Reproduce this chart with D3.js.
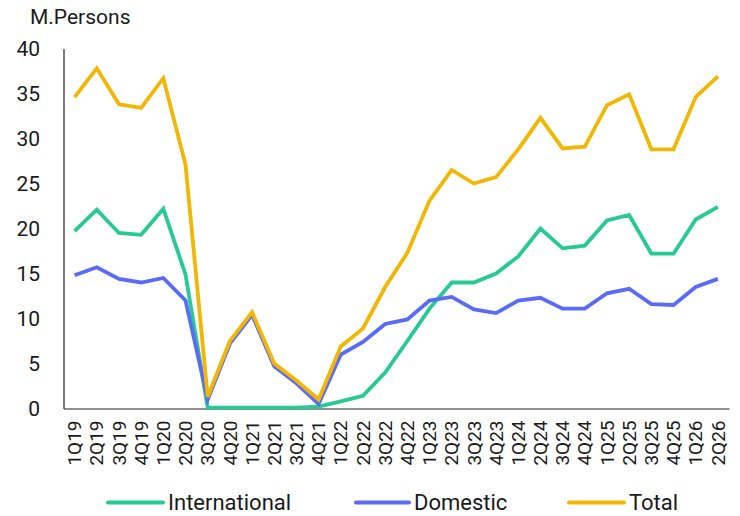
<!DOCTYPE html>
<html><head><meta charset="utf-8">
<script src="https://cdn.jsdelivr.net/npm/d3@7/dist/d3.min.js"></script>
<style>body{margin:0;background:#fff}svg{display:block}text{font-family:Roboto,"Noto Sans",sans-serif;fill:#1a1a1a}</style>
</head><body><svg id="c" width="740" height="516"></svg>
<script>
const categories = ["1Q19","2Q19","3Q19","4Q19","1Q20","2Q20","3Q20","4Q20","1Q21","2Q21","3Q21","4Q21","1Q22","2Q22","3Q22","4Q22","1Q23","2Q23","3Q23","4Q23","1Q24","2Q24","3Q24","4Q24","1Q25","2Q25","3Q25","4Q25","1Q26","2Q26"];
const international = [19.7,22.1,19.5,19.3,22.2,14.9,0.1,0.1,0.1,0.1,0.1,0.2,0.8,1.4,4.0,7.5,11.1,14.0,14.0,15.0,16.9,20.0,17.8,18.1,20.9,21.5,17.2,17.2,21.0,22.4];
const domestic = [14.8,15.7,14.4,14.0,14.5,12.0,1.0,7.2,10.4,4.7,2.8,0.5,6.0,7.4,9.4,9.9,12.0,12.4,11.0,10.6,12.0,12.3,11.1,11.1,12.8,13.3,11.6,11.5,13.5,14.4];
const total = [34.6,37.8,33.8,33.4,36.7,27.1,1.3,7.5,10.7,5.0,3.1,1.0,6.9,8.9,13.5,17.3,23.1,26.5,25.0,25.7,28.8,32.3,28.9,29.1,33.7,34.9,28.8,28.8,34.6,36.9];
const yTicks = [0,5,10,15,20,25,30,35,40];
const series = [
  {name:"International", values:international, color:"#27C994"},
  {name:"Domestic", values:domestic, color:"#5A6BF8"},
  {name:"Total", values:total, color:"#F2B705"}
];

const svg = d3.select("#c");
const x = d3.scaleBand().domain(categories).range([63.5, 729]);
const y = d3.scaleLinear().domain([0,40]).range([408.5, 48.5]);
const cx = d => x(d) + x.bandwidth()/2;

// y axis
const ya = svg.append("g").attr("transform","translate(63.5,0)")
  .call(d3.axisLeft(y).tickValues(yTicks).tickSize(0).tickPadding(0));
ya.select(".domain").attr("stroke","#222").attr("stroke-width",1.2);
ya.selectAll("text").attr("x",-23.5).attr("font-size",21).style("font-family","Roboto,sans-serif").attr("fill","#1a1a1a");

// x axis
const xa = svg.append("g").attr("transform","translate(0,408.5)")
  .call(d3.axisBottom(x).tickSize(0).tickPadding(0));
xa.select(".domain").attr("stroke","#222").attr("stroke-width",1.2);
xa.selectAll("text").attr("font-size",19).style("font-family","Roboto,sans-serif").attr("fill","#1a1a1a")
  .attr("text-anchor","end").attr("dy","0.35em").attr("y",0)
  .attr("transform","translate(0,12) rotate(-90)");

// lines
const line = d3.line().x((d,i)=>cx(categories[i])).y(d=>y(d));
series.forEach(s=>{
  svg.append("path").datum(s.values).attr("d",line)
    .attr("fill","none").attr("stroke",s.color).attr("stroke-width",3.8)
    .attr("stroke-linejoin","miter");
});

// unit label
svg.append("text").attr("x",30).attr("y",23.5).attr("font-size",21).text("M.Persons");

// legend
const leg = [{x1:108,x2:163,tx:168},{x1:356,x2:409,tx:414},{x1:569,x2:624,tx:629}];
series.forEach((s,i)=>{
  const L = leg[i];
  svg.append("line").attr("x1",L.x1).attr("x2",L.x2).attr("y1",502.5).attr("y2",502.5)
    .attr("stroke",s.color).attr("stroke-width",4).attr("stroke-linecap","round");
  svg.append("text").attr("x",L.tx).attr("y",510).attr("font-size",22).text(s.name);
});
</script></body></html>
